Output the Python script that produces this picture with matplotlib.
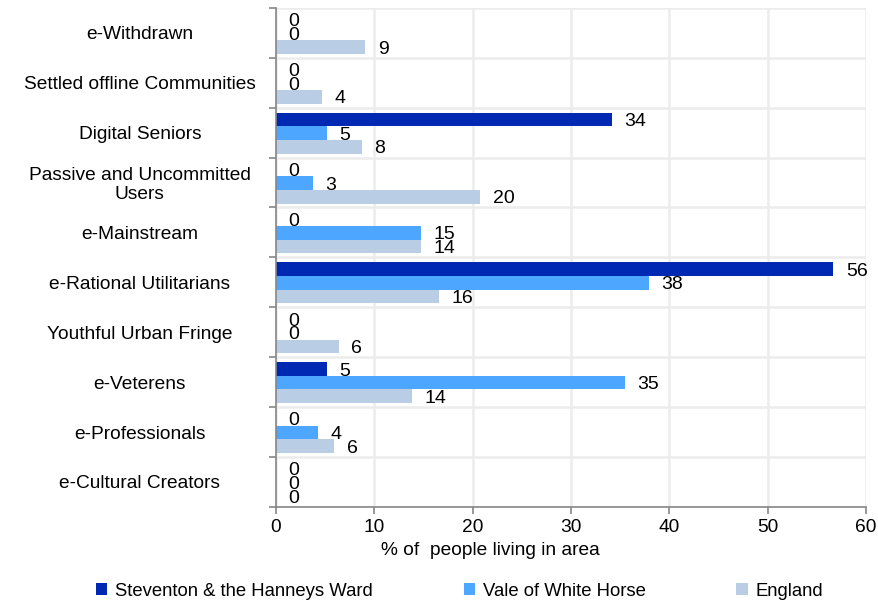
import matplotlib.pyplot as plt
import numpy as np

plt.rcParams["font.family"] = ["Liberation Sans", "DejaVu Sans"]

categories = ["e-Withdrawn", "Settled offline Communities", "Digital Seniors",
              "Passive and Uncommitted\nUsers", "e-Mainstream", "e-Rational Utilitarians",
              "Youthful Urban Fringe", "e-Veterens", "e-Professionals", "e-Cultural Creators"]
series_names = ["Steventon & the Hanneys Ward", "Vale of White Horse", "England"]
steventon = [0, 0, 34.2, 0, 0, 56.7, 0, 5.2, 0, 0]
vale = [0, 0, 5.2, 3.75, 14.8, 37.9, 0, 35.5, 4.3, 0]
england = [9.1, 4.7, 8.7, 20.8, 14.7, 16.6, 6.4, 13.8, 5.9, 0]
steventon_lbl = ["0", "0", "34", "0", "0", "56", "0", "5", "0", "0"]
vale_lbl = ["0", "0", "5", "3", "15", "38", "0", "35", "4", "0"]
england_lbl = ["9", "4", "8", "20", "14", "16", "6", "14", "6", "0"]
colors = ["#0029b3", "#4da6ff", "#b9cde5"]

fig = plt.figure(figsize=(8.79, 6.02), dpi=100)
ax = fig.add_axes([0.314, 0.158, 0.671, 0.829])

y = np.arange(len(categories))
h = 0.274
for k, (vals, lbls) in enumerate([(steventon, steventon_lbl), (vale, vale_lbl), (england, england_lbl)]):
    bars = ax.barh(y + (k - 1) * h + 0.01, vals, height=h, color=colors[k], label=series_names[k], zorder=2)
    txts = ax.bar_label(bars, labels=lbls, padding=9, fontsize=14, color="black")
    for t in txts:
        t.set_y(-1.5)  # nudge down a touch (offset points)

ax.set_xlim(0, 60)
ax.set_ylim(len(categories) - 0.5, -0.5)
ax.set_xticks(np.arange(0, 61, 10))
ax.set_yticks(y)
ax.set_yticklabels(categories, fontsize=13.8, ha="center", linespacing=1.15)
ax.set_yticks(np.arange(-0.5, len(categories), 1), minor=True)
ax.tick_params(axis="y", which="major", length=0, pad=98)
ax.tick_params(axis="y", which="minor", length=5, color="#868686", width=1.2)
ax.tick_params(axis="x", length=5, color="#868686", width=1.2, labelsize=13.8, pad=4)

ax.grid(True, axis="x", color="#ececec", linewidth=1.8, zorder=0)
ax.grid(True, axis="y", which="minor", color="#ececec", linewidth=1.8, zorder=0)
ax.set_axisbelow(True)
for s in ["top", "right"]:
    ax.spines[s].set_visible(False)
for s in ["left", "bottom"]:
    ax.spines[s].set_color("#868686")
    ax.spines[s].set_linewidth(1.2)

ax.set_xlabel("% of  people living in area", fontsize=13.8, labelpad=0)
ax.xaxis.set_label_coords(0.363, -0.07)

fig.legend(loc="center", bbox_to_anchor=(0.523, 0.018), ncol=3, frameon=False,
           fontsize=13.3, handlelength=0.6, handleheight=0.6, handletextpad=0.45,
           columnspacing=4.9)

fig.savefig("out.png", dpi=100)
